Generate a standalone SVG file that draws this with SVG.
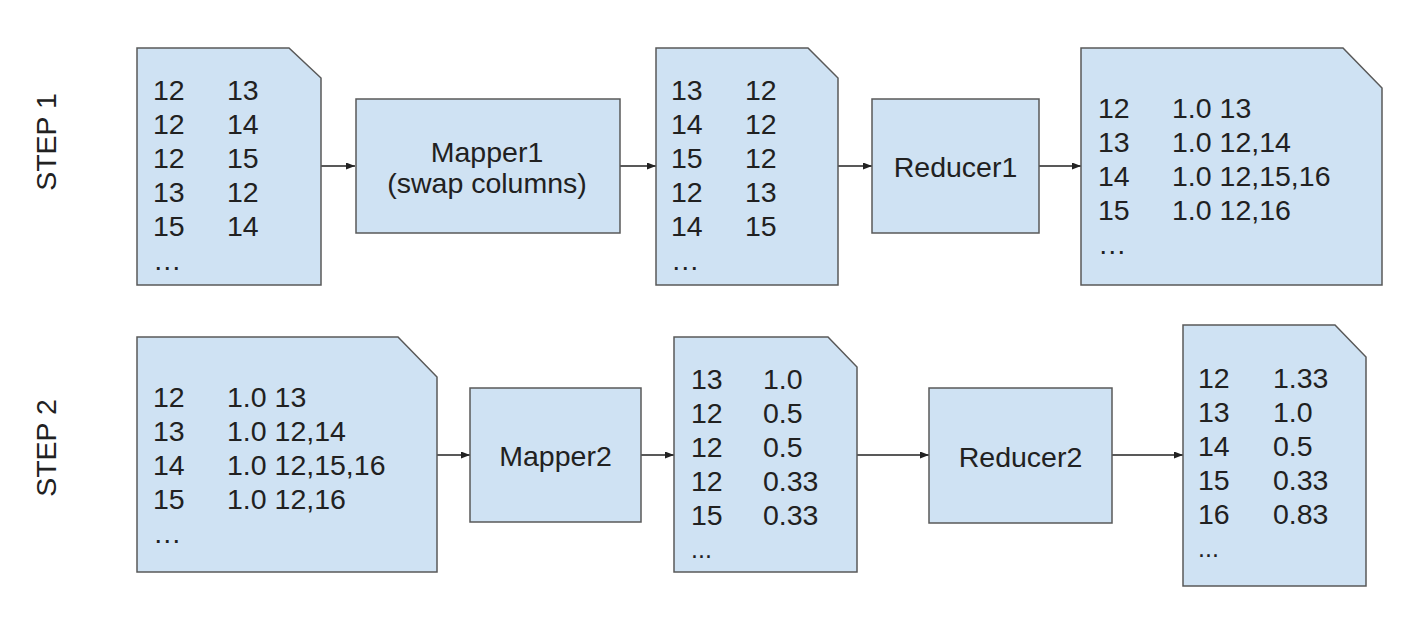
<svg xmlns="http://www.w3.org/2000/svg" width="1423" height="631" viewBox="0 0 1423 631">
<style>
.shape{fill:#cfe2f3;stroke:#595959;stroke-width:1.5}
text{font-family:"Liberation Sans",Arial,sans-serif;font-size:28.5px;fill:#212121}
.c{text-anchor:middle}
.sm{font-size:25px}
.conn{stroke:#222;stroke-width:1.3;fill:none}
</style>
<defs>
<marker id="ah" markerWidth="9" markerHeight="7" refX="9" refY="3.5" orient="auto" markerUnits="userSpaceOnUse">
<path d="M0,0 L9,3.5 L0,7 z" fill="#222"/>
</marker>
</defs>
<rect width="1423" height="631" fill="#fff"/>
<g id="labels">
<text class="c" x="56" y="142" transform="rotate(-90 56 142)">STEP 1</text>
<text class="c" x="56" y="448" transform="rotate(-90 56 448)">STEP 2</text>
</g>
<g id="connectors">
<line class="conn" x1="321" y1="166" x2="355" y2="166" marker-end="url(#ah)"/>
<line class="conn" x1="620" y1="166" x2="656" y2="166" marker-end="url(#ah)"/>
<line class="conn" x1="838" y1="166" x2="872" y2="166" marker-end="url(#ah)"/>
<line class="conn" x1="1039" y1="166" x2="1081" y2="166" marker-end="url(#ah)"/>
<line class="conn" x1="437" y1="455" x2="470" y2="455" marker-end="url(#ah)"/>
<line class="conn" x1="641" y1="455" x2="674" y2="455" marker-end="url(#ah)"/>
<line class="conn" x1="857" y1="455" x2="929" y2="455" marker-end="url(#ah)"/>
<line class="conn" x1="1112" y1="455" x2="1183" y2="455" marker-end="url(#ah)"/>
</g>
<g id="doc1">
<path class="shape" d="M137,48 H289 L321,78 V285 H137 Z"/>
<text x="153" y="100">12</text><text x="227" y="100">13</text>
<text x="153" y="134">12</text><text x="227" y="134">14</text>
<text x="153" y="168">12</text><text x="227" y="168">15</text>
<text x="153" y="202">13</text><text x="227" y="202">12</text>
<text x="153" y="236">15</text><text x="227" y="236">14</text>
<text x="153" y="270">…</text>
</g>
<g id="mapper1">
<rect class="shape" x="356" y="99" width="264" height="134"/>
<text class="c" x="487" y="162">Mapper1</text>
<text class="c" x="487" y="193">(swap columns)</text>
</g>
<g id="doc2">
<path class="shape" d="M656,48 H808 L838,78 V285 H656 Z"/>
<text x="671" y="100">13</text><text x="745" y="100">12</text>
<text x="671" y="134">14</text><text x="745" y="134">12</text>
<text x="671" y="168">15</text><text x="745" y="168">12</text>
<text x="671" y="202">12</text><text x="745" y="202">13</text>
<text x="671" y="236">14</text><text x="745" y="236">15</text>
<text x="671" y="270">…</text>
</g>
<g id="reducer1">
<rect class="shape" x="872" y="99" width="167" height="134"/>
<text class="c" x="955.5" y="177">Reducer1</text>
</g>
<g id="doc3">
<path class="shape" d="M1081,48 H1343 L1382,88 V285 H1081 Z"/>
<text x="1098" y="118">12</text><text x="1172" y="118">1.0 13</text>
<text x="1098" y="152">13</text><text x="1172" y="152">1.0 12,14</text>
<text x="1098" y="186">14</text><text x="1172" y="186">1.0 12,15,16</text>
<text x="1098" y="220">15</text><text x="1172" y="220">1.0 12,16</text>
<text x="1098" y="254">…</text>
</g>
<g id="doc4">
<path class="shape" d="M137,337 H398 L437,377 V572 H137 Z"/>
<text x="153" y="407">12</text><text x="227" y="407">1.0 13</text>
<text x="153" y="441">13</text><text x="227" y="441">1.0 12,14</text>
<text x="153" y="475">14</text><text x="227" y="475">1.0 12,15,16</text>
<text x="153" y="509">15</text><text x="227" y="509">1.0 12,16</text>
<text x="153" y="543">…</text>
</g>
<g id="mapper2">
<rect class="shape" x="470" y="388" width="171" height="134"/>
<text class="c" x="555.5" y="466">Mapper2</text>
</g>
<g id="doc5">
<path class="shape" d="M674,337 H828 L857,367 V572 H674 Z"/>
<text x="691" y="389">13</text><text x="763" y="389">1.0</text>
<text x="691" y="423">12</text><text x="763" y="423">0.5</text>
<text x="691" y="457">12</text><text x="763" y="457">0.5</text>
<text x="691" y="491">12</text><text x="763" y="491">0.33</text>
<text x="691" y="525">15</text><text x="763" y="525">0.33</text>
<text class="sm" x="691" y="558">...</text>
</g>
<g id="reducer2">
<rect class="shape" x="929" y="388" width="183" height="135"/>
<text class="c" x="1020.5" y="467">Reducer2</text>
</g>
<g id="doc6">
<path class="shape" d="M1183,325 H1335 L1366,357 V586 H1183 Z"/>
<text x="1198" y="388">12</text><text x="1273" y="388">1.33</text>
<text x="1198" y="422">13</text><text x="1273" y="422">1.0</text>
<text x="1198" y="456">14</text><text x="1273" y="456">0.5</text>
<text x="1198" y="490">15</text><text x="1273" y="490">0.33</text>
<text x="1198" y="524">16</text><text x="1273" y="524">0.83</text>
<text class="sm" x="1198" y="557">...</text>
</g>
</svg>
